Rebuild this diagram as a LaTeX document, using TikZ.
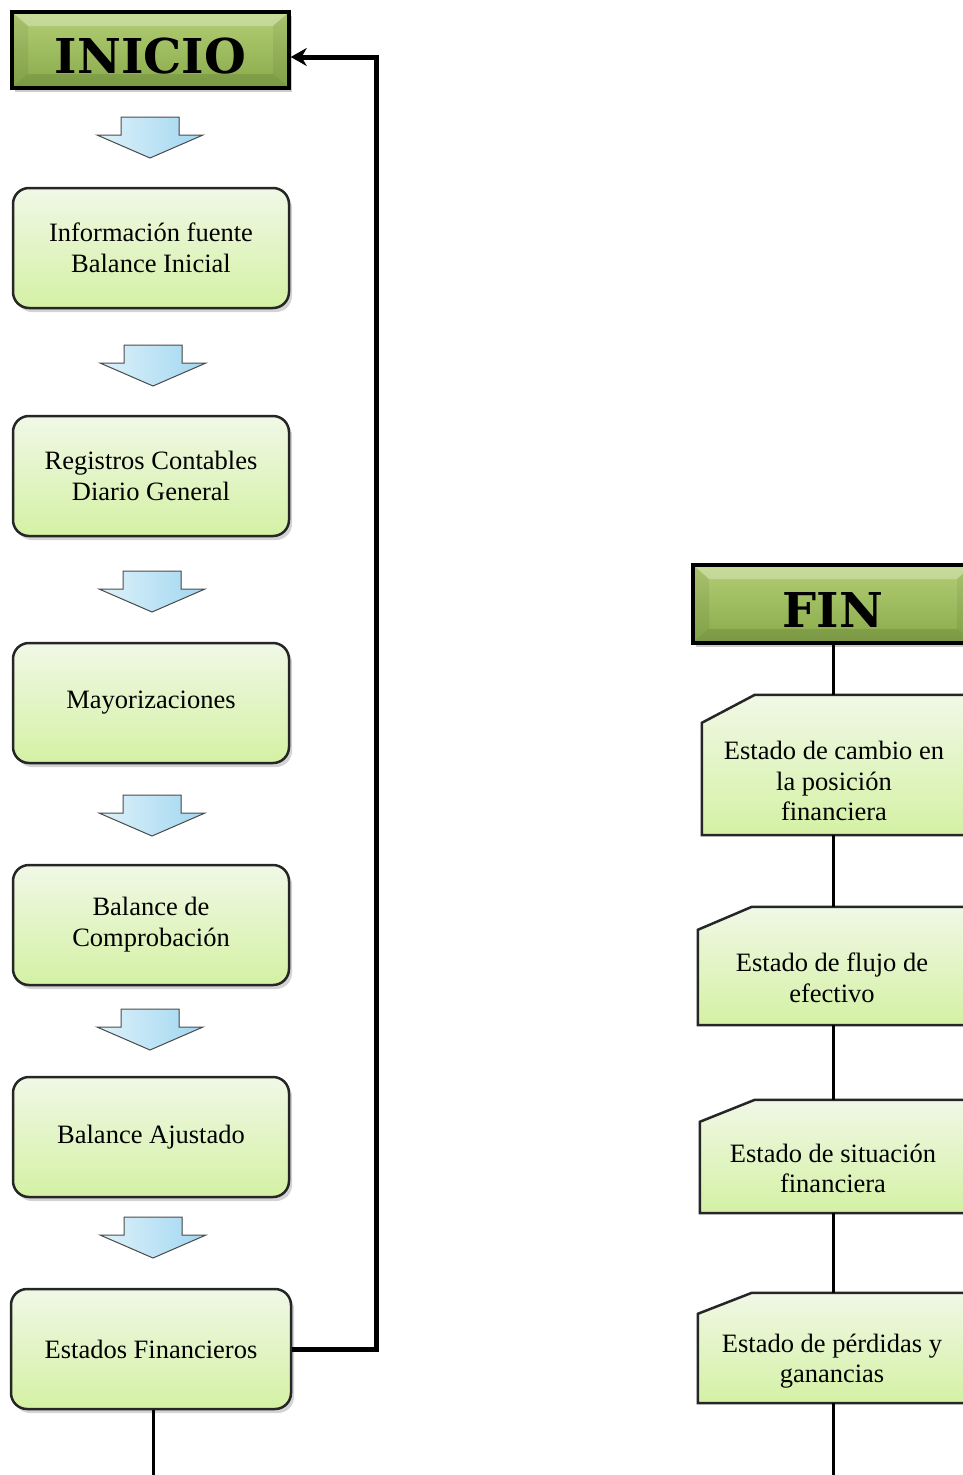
\documentclass[tikz,border=0pt]{standalone}
\usepackage{fontspec}
\setmainfont{Liberation Serif}
\newfontfamily\headfont{DejaVu Serif}
\usetikzlibrary{shadows,arrows.meta,backgrounds,calc}

\definecolor{termtop}{RGB}{180,206,118}
\definecolor{termmid}{RGB}{155,187,89}
\definecolor{termbot}{RGB}{136,170,74}
\definecolor{steptop}{RGB}{240,248,230}
\definecolor{stepbot}{RGB}{212,241,164}
\definecolor{arrowblue}{RGB}{160,214,240}
\definecolor{arrowlight}{RGB}{222,242,250}

\tikzset{
  terminal/.style={draw=black, line width=3.5pt, top color=termtop, middle color=termmid,
    bottom color=termbot, inner sep=0pt, text height=47pt, text depth=0pt,
    font=\headfont\bfseries\fontsize{48}{48}\selectfont,
    drop shadow={shadow xshift=3pt, shadow yshift=-4pt, opacity=.4},
    path picture={
      \fill[white, opacity=.28]
        (path picture bounding box.north west) -- (path picture bounding box.north east)
        -- ([shift={(-16pt,-14pt)}]path picture bounding box.north east)
        -- ([shift={(16pt,-14pt)}]path picture bounding box.north west) -- cycle;
      \fill[black, opacity=.10]
        (path picture bounding box.south west) -- (path picture bounding box.south east)
        -- ([shift={(-16pt,14pt)}]path picture bounding box.south east)
        -- ([shift={(16pt,14pt)}]path picture bounding box.south west) -- cycle;
      \fill[black, opacity=.06]
        (path picture bounding box.north west) -- ([shift={(16pt,-14pt)}]path picture bounding box.north west)
        -- ([shift={(16pt,14pt)}]path picture bounding box.south west)
        -- (path picture bounding box.south west) -- cycle;
      \fill[black, opacity=.06]
        (path picture bounding box.north east) -- ([shift={(-16pt,-14pt)}]path picture bounding box.north east)
        -- ([shift={(-16pt,14pt)}]path picture bounding box.south east)
        -- (path picture bounding box.south east) -- cycle;
    }},
  stagebox/.style={draw=black!85, line width=2.5pt, rounded corners=16pt,
    top color=steptop, bottom color=stepbot, minimum width=276pt, minimum height=120pt,
    align=center, inner sep=0pt, font=\fontsize{26.5}{31}\selectfont,
    drop shadow={shadow xshift=3pt, shadow yshift=-4pt, opacity=.35}},
  statement/.style={inner sep=0pt},
  statementtext/.style={align=center, inner sep=0pt, font=\fontsize{26.5}{30.5}\selectfont},
  snipfill/.style={draw=black!85, line width=2.5pt, top color=steptop, bottom color=stepbot},
  link/.style={draw=black, line width=3pt},
  feedback/.style={draw=black, line width=5pt, -{Stealth[length=16pt,width=18pt]}},
  downarrow/.pic={
    \filldraw[draw=black!70, line width=1pt, left color=arrowlight, right color=arrowblue]
      (-29,0) -- (29,0) -- (29,18) -- (53,18) -- (0,41) -- (-53,18) -- (-29,18) -- cycle;
  }
}

% box with a snipped top-left corner behind a statement node
\newcommand\snipframe[3]{%
  \begin{scope}[on background layer]
    \fill[black, opacity=.35, shift={(3pt,-4pt)}]
      ([yshift=-#3]#1.north west) -- ([xshift=#2]#1.north west) -- (#1.north east)
      -- (#1.south east) -- (#1.south west) -- cycle;
    \path[snipfill]
      ([yshift=-#3]#1.north west) -- ([xshift=#2]#1.north west) -- (#1.north east)
      -- (#1.south east) -- (#1.south west) -- cycle;
  \end{scope}}

\begin{document}
\begin{tikzpicture}[x=1pt, y=-1pt]
  \useasboundingbox (0,0) rectangle (963,1475);
  \clip (0,0) rectangle (963,1475);

  % left column: accounting cycle
  \node[terminal, minimum width=277pt, minimum height=76pt] (start) at (150.5,50) {INICIO};
  \node[stagebox] (e1) at (151,248) {Información fuente\\Balance Inicial};
  \node[stagebox] (e2) at (151,476) {Registros Contables\\Diario General};
  \node[stagebox] (e3) at (151,703) {Mayorizaciones};
  \node[stagebox] (e4) at (151,925) {Balance de\\Comprobación};
  \node[stagebox] (e5) at (151,1137) {Balance Ajustado};
  \node[stagebox, minimum width=280pt] (e6) at (151,1349) {Estados Financieros};

  \pic at (150,117) {downarrow};
  \pic at (153,345) {downarrow};
  \pic at (152,571) {downarrow};
  \pic at (152,795) {downarrow};
  \pic at (150,1009) {downarrow};
  \pic at (153,1217) {downarrow};

  % loop back from the statements to the start
  \coordinate (turn) at (376,0);
  \coordinate (startin) at ([yshift=-7pt]start.east);
  \draw[feedback] (e6.east) -- (e6.east -| turn) -- (turn |- startin) -- (startin);
  \coordinate (leftend) at (153,1480);
  \draw[link] (e6.south -| leftend) -- (leftend);

  % right column: financial statements
  \node[terminal, minimum width=280pt, minimum height=78pt] (fin) at (833,604) {FIN};
  \node[statement, minimum width=264pt, minimum height=140pt] (r1) at (834,765) {};
  \node[statement, minimum width=268pt, minimum height=118pt] (r2) at (832,966) {};
  \node[statement, minimum width=266pt, minimum height=113pt] (r3) at (833,1156.5) {};
  \node[statement, minimum width=268pt, minimum height=110pt] (r4) at (832,1348) {};
  \node[statementtext] (r1t) at ([yshift=-16pt]r1.center) {Estado de cambio en\\la posición\\financiera};
  \node[statementtext] (r2t) at ([yshift=-12pt]r2.center) {Estado de flujo de\\efectivo};
  \node[statementtext] (r3t) at ([yshift=-12pt]r3.center) {Estado de situación\\financiera};
  \node[statementtext] (r4t) at ([yshift=-13pt]r4.center) {Estado de pérdidas y\\ganancias};
  \snipframe{r1}{53pt}{28pt}
  \snipframe{r2}{54pt}{23pt}
  \snipframe{r3}{55pt}{22pt}
  \snipframe{r4}{54pt}{21pt}

  \coordinate (rightend) at (833,1480);
  \draw[link] (fin.south) -- (fin.south |- r1.north);
  \draw[link] (fin.south |- r1.south) -- (fin.south |- r2.north);
  \draw[link] (fin.south |- r2.south) -- (fin.south |- r3.north);
  \draw[link] (fin.south |- r3.south) -- (fin.south |- r4.north);
  \draw[link] (fin.south |- r4.south) -- (rightend);
\end{tikzpicture}
\end{document}
